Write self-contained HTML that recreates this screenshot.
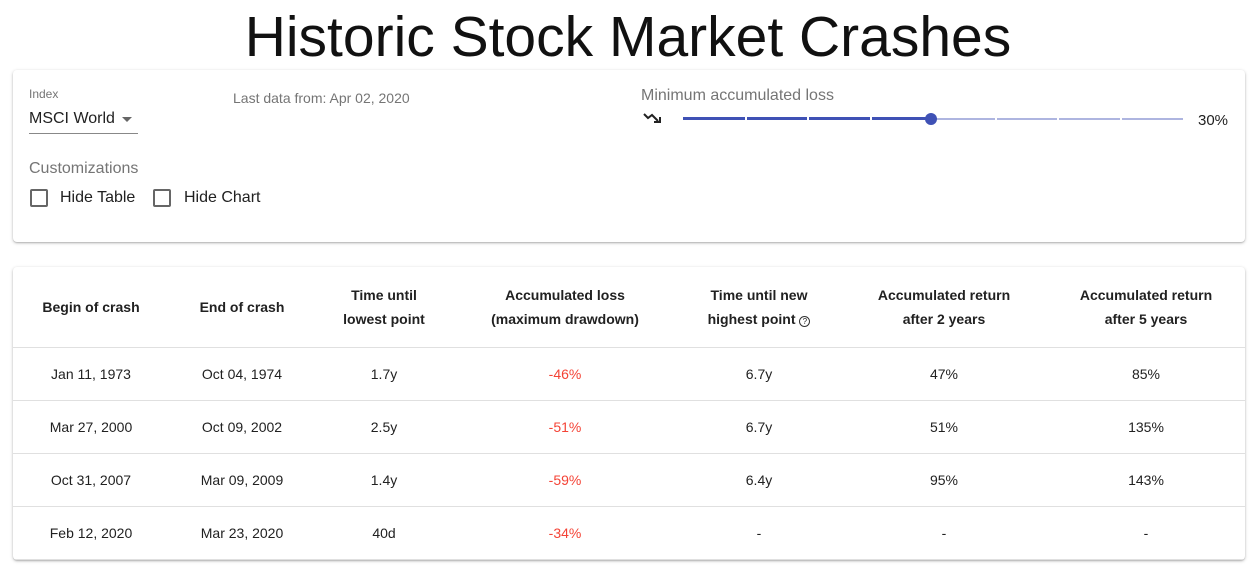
<!DOCTYPE html>
<html><head><meta charset="utf-8"><style>
*{box-sizing:border-box;margin:0;padding:0}
body{width:1256px;height:571px;background:#fff;font-family:"Liberation Sans",sans-serif;position:relative;overflow:hidden;color:#212121}
.abs{position:absolute}
.card{position:absolute;left:13px;width:1232px;background:#fff;border-radius:4px;box-shadow:0 1px 3px rgba(0,0,0,.25),0 1px 1px rgba(0,0,0,.12)}
h1{position:absolute;left:0;width:1256px;top:4px;text-align:center;font-weight:300;font-size:57px;color:#111;letter-spacing:0px}
.cb{position:absolute;width:18px;height:18px;border:2px solid #666;border-radius:2px}
table{border-collapse:collapse;width:1232px;font-size:14px}
td,th{text-align:center;border-bottom:1px solid #e0e0e0}
th{height:80px;font-weight:bold;font-size:14px;line-height:24px;color:#212121}
td{height:53px}
.neg{color:#f44336}
</style></head><body>
<h1>Historic Stock Market Crashes</h1>
<div class="card" style="top:70px;height:172px">
  <div class="abs" style="left:16px;top:17px;font-size:12px;color:#757575">Index</div>
  <div class="abs" style="left:16px;top:40px;width:109px;height:24px;border-bottom:1px solid #888;font-size:16px">MSCI World<span style="position:absolute;left:93px;top:7px;border-left:5px solid transparent;border-right:5px solid transparent;border-top:5px solid #666"></span></div>
  <div class="abs" style="left:220px;top:20px;font-size:14px;color:#757575">Last data from: Apr 02, 2020</div>
  <div class="abs" style="left:16px;top:90px;font-size:16px;color:#757575">Customizations</div>
  <div class="cb" style="left:17px;top:119px"></div>
  <div class="abs" style="left:47px;top:119px;font-size:16px">Hide Table</div>
  <div class="cb" style="left:140px;top:119px"></div>
  <div class="abs" style="left:171px;top:119px;font-size:16px">Hide Chart</div>
  <div class="abs" style="left:628px;top:17px;font-size:16px;color:#757575">Minimum accumulated loss</div>
  <svg class="abs" style="left:629px;top:40px" width="24" height="18"><path d="M2 4 L6 8 L10 5 L16 11" stroke="#222" stroke-width="2" fill="none"/><path d="M12 12 L18 12 L18 7" stroke="#222" stroke-width="2" fill="none"/></svg>
  <div class="abs" style="left:670px;top:48px;width:500px;height:2px;background:#aeb5e0"></div>
  <div class="abs" style="left:670px;top:47px;width:248px;height:3px;background:#3f51b5"></div>
  <div id="ticks"></div>
  <div class="abs" style="left:912px;top:43px;width:12px;height:12px;border-radius:50%;background:#3f51b5"></div>
  <div class="abs" style="left:1185px;top:42px;font-size:15px">30%</div>
</div>
<div class="card" style="top:267px;height:293px;overflow:hidden">
<table>
<colgroup><col style="width:156px"><col style="width:146px"><col style="width:138px"><col style="width:224px"><col style="width:164px"><col style="width:206px"><col style="width:198px"></colgroup>
<tr><th>Begin of crash</th><th>End of crash</th><th>Time until<br>lowest point</th><th>Accumulated loss<br>(maximum drawdown)</th><th>Time until new<br>highest point <span style="font-weight:normal;border:1px solid #333;border-radius:50%;display:inline-block;width:11px;height:11px;line-height:9px;font-size:8px">?</span></th><th>Accumulated return<br>after 2 years</th><th>Accumulated return<br>after 5 years</th></tr>
<tr><td>Jan 11, 1973</td><td>Oct 04, 1974</td><td>1.7y</td><td class="neg">-46%</td><td>6.7y</td><td>47%</td><td>85%</td></tr>
<tr><td>Mar 27, 2000</td><td>Oct 09, 2002</td><td>2.5y</td><td class="neg">-51%</td><td>6.7y</td><td>51%</td><td>135%</td></tr>
<tr><td>Oct 31, 2007</td><td>Mar 09, 2009</td><td>1.4y</td><td class="neg">-59%</td><td>6.4y</td><td>95%</td><td>143%</td></tr>
<tr><td>Feb 12, 2020</td><td>Mar 23, 2020</td><td>40d</td><td class="neg">-34%</td><td>-</td><td>-</td><td>-</td></tr>
</table></div>
<script>
const tickIdx=[1,2,3,4,5,6,7];
const t=document.getElementById('ticks');
tickIdx.forEach(i=>{const d=document.createElement('div');


d.className='abs';d.style.cssText=`left:${670+i*62.5-1}px;top:47px;width:2px;height:3px;background:#fff`;t.appendChild(d);});
</script>
</body></html>
